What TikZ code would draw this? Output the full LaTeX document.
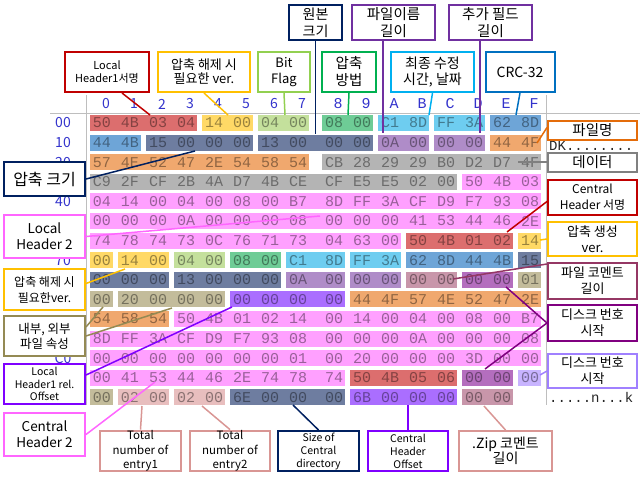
\documentclass[tikz,border=0pt]{standalone}
\usepackage{fontspec}
\setmainfont{Noto Sans CJK KR}
\newfontfamily\hexfont{Liberation Mono}

% byte colours
\definecolor{cSig}{RGB}{220,110,110}
\definecolor{cVer}{RGB}{255,217,102}
\definecolor{cFlag}{RGB}{196,224,156}
\definecolor{cMeth}{RGB}{110,204,150}
\definecolor{cTime}{RGB}{110,205,240}
\definecolor{cCrc}{RGB}{110,165,215}
\definecolor{cSize}{RGB}{110,125,160}
\definecolor{cLen}{RGB}{175,140,200}
\definecolor{cName}{RGB}{240,168,110}
\definecolor{cData}{RGB}{180,180,180}
\definecolor{cPink}{RGB}{255,160,255}
\definecolor{cCom}{RGB}{200,150,170}
\definecolor{cDisk}{RGB}{180,110,190}
\definecolor{cAttr}{RGB}{195,188,155}
\definecolor{cOff}{RGB}{170,110,255}
\definecolor{cDiskB}{RGB}{200,180,255}
\definecolor{cTot}{RGB}{232,190,190}
% box colours
\definecolor{bRed}{RGB}{192,0,0}
\definecolor{bGold}{RGB}{255,192,0}
\definecolor{bLime}{RGB}{146,208,80}
\definecolor{bNavy}{RGB}{0,32,96}
\definecolor{bGreen}{RGB}{0,176,80}
\definecolor{bPurple}{RGB}{112,48,160}
\definecolor{bSky}{RGB}{0,176,240}
\definecolor{bBlue}{RGB}{0,112,192}
\definecolor{bOrange}{RGB}{228,108,10}
\definecolor{bGray}{RGB}{128,128,128}
\definecolor{bPink}{RGB}{255,102,255}
\definecolor{bKhaki}{RGB}{148,138,84}
\definecolor{bViolet}{RGB}{127,0,255}
\definecolor{bMaroon}{RGB}{149,55,100}
\definecolor{bPlum}{RGB}{128,0,128}
\definecolor{bLav}{RGB}{160,128,255}
\definecolor{bRose}{RGB}{217,150,148}
\definecolor{hdr}{RGB}{51,51,204}
\definecolor{gridc}{RGB}{190,190,190}

\tikzset{
    sep/.style={draw=gridc, line width=1pt},
    colhead/.style={text=hdr, inner sep=0pt, font=\fontsize{14}{14}\selectfont},
    rowhead/.style={text=hdr, inner sep=0pt, font=\fontsize{14}{14}\selectfont},
    hexbyte/.style={inner sep=0pt, font=\hexfont\fontsize{15}{15}\selectfont},
    asc/.style={inner sep=0pt, anchor=base west, text=black!85, font=\hexfont\fontsize{14}{14}\selectfont},
    callout/.style={draw=#1, line width=2pt, fill=white, align=center, inner sep=0pt},
}

% one coloured run of bytes: row, first column, colour, bytes
\newcommand\hexseg[4]{%
    \foreach \hb [count=\hi] in {#4} {\xdef\segn{\hi}}%
    \pgfmathsetmacro\xa{102+28*#2+8*(#2>7)-12}%
    \pgfmathtruncatemacro\lastc{#2+\segn-1}%
    \pgfmathsetmacro\xb{102+28*\lastc+8*(\lastc>7)+11}%
    \pgfmathsetmacro\yc{123+19.6*#1}%
    \fill[#3] (\xa,\yc-8) rectangle (\xb,\yc+8);%
    \foreach \hb [count=\hi from #2] in {#4} {%
        \pgfmathsetmacro\xc{102+28*\hi+8*(\hi>7)}%
        \node[hexbyte, text=#3!60!black] (b-#1-\hi) at (\xc,\yc) {\hb};}%
}

\begin{document}
\begin{tikzpicture}[x=1pt, y=-1pt]
    \useasboundingbox (0,0) rectangle (640,479);
    % frame of the dump
    \draw[sep] (50,113) -- (640,113);
    \draw[sep] (86,95) -- (86,405);
    \draw[sep] (546,95) -- (546,405);
    \foreach \c in {0,...,7}
        \node[colhead] (h-\c) at ({106+28*\c},104) {\c};
    \foreach \c/\lab in {8/8,9/9,10/A,11/B,12/C,13/D,14/E,15/F}
        \node[colhead, font=\hexfont\fontsize{15}{15}\selectfont] (h-\c) at ({114+28*\c},104) {\lab};
    \foreach \rw/\lab in {0/00,1/10,2/20,4/40,7/70,12/C0}
        \node[rowhead] (r-\rw) at (63,{123+19.6*\rw}) {\lab};
    \node[asc] (a-1) at (549,150.5) {DK........};
    \node[asc] (a-14) at (549,402.4) {.....n...k};

    % local header 1
    \hexseg{0}{0}{cSig}{50,4B,03,04}
    \hexseg{0}{4}{cVer}{14,00}
    \hexseg{0}{6}{cFlag}{04,00}
    \hexseg{0}{8}{cMeth}{08,00}
    \hexseg{0}{10}{cTime}{C1,8D}
    \hexseg{0}{12}{cTime}{FF,3A}
    \hexseg{0}{14}{cCrc}{62,8D}
    \hexseg{1}{0}{cCrc}{44,4B}
    \hexseg{1}{2}{cSize}{15,00,00,00}
    \hexseg{1}{6}{cSize}{13,00,00,00}
    \hexseg{1}{10}{cLen}{0A,00}
    \hexseg{1}{12}{cLen}{00,00}
    \hexseg{1}{14}{cName}{44,4F}
    \hexseg{2}{0}{cName}{57,4E,52,47,2E,54,58,54}
    \hexseg{2}{8}{cData}{CB,28,29,29,B0,D2,D7,4F}
    \hexseg{3}{0}{cData}{C9,2F,CF,2B,4A,D7,4B,CE,CF,E5,E5,02,00}
    % local header 2
    \hexseg{3}{13}{cPink}{50,4B,03}
    \hexseg{4}{0}{cPink}{04,14,00,04,00,08,00,B7,8D,FF,3A,CF,D9,F7,93,08}
    \hexseg{5}{0}{cPink}{00,00,00,0A,00,00,00,08,00,00,00,41,53,44,46,2E}
    \hexseg{6}{0}{cPink}{74,78,74,73,0C,76,71,73,04,63,00}
    % central header 1
    \hexseg{6}{11}{cSig}{50,4B,01,02}
    \hexseg{6}{15}{cVer}{14}
    \hexseg{7}{0}{cVer}{00}
    \hexseg{7}{1}{cVer}{14,00}
    \hexseg{7}{3}{cFlag}{04,00}
    \hexseg{7}{5}{cMeth}{08,00}
    \hexseg{7}{7}{cTime}{C1,8D}
    \hexseg{7}{9}{cTime}{FF,3A}
    \hexseg{7}{11}{cCrc}{62,8D,44,4B}
    \hexseg{7}{15}{cSize}{15}
    \hexseg{8}{0}{cSize}{00,00,00}
    \hexseg{8}{3}{cSize}{13,00,00,00}
    \hexseg{8}{7}{cLen}{0A,00}
    \hexseg{8}{9}{cLen}{00,00}
    \hexseg{8}{11}{cCom}{00,00}
    \hexseg{8}{13}{cDisk}{00,00}
    \hexseg{8}{15}{cAttr}{01}
    \hexseg{9}{0}{cAttr}{00}
    \hexseg{9}{1}{cAttr}{20,00,00,00}
    \hexseg{9}{5}{cOff}{00,00,00,00}
    \hexseg{9}{9}{cName}{44,4F,57,4E,52,47,2E}
    \hexseg{10}{0}{cName}{54,58,54}
    % central header 2
    \hexseg{10}{3}{cPink}{50,4B,01,02,14,00,14,00,04,00,08,00,B7}
    \hexseg{11}{0}{cPink}{8D,FF,3A,CF,D9,F7,93,08,00,00,00,0A,00,00,00,08}
    \hexseg{12}{0}{cPink}{00,00,00,00,00,00,00,01,00,20,00,00,00,3D,00,00}
    \hexseg{13}{0}{cPink}{00,41,53,44,46,2E,74,78,74}
    % end of central directory
    \hexseg{13}{9}{cSig}{50,4B,05,06}
    \hexseg{13}{13}{cDisk}{00,00}
    \hexseg{13}{15}{cDiskB}{00}
    \hexseg{14}{0}{cAttr}{00}
    \hexseg{14}{1}{cTot}{02,00}
    \hexseg{14}{3}{cTot}{02,00}
    \hexseg{14}{5}{cSize}{6E,00,00,00}
    \hexseg{14}{9}{cOff}{6B,00,00,00}
    \hexseg{14}{13}{cCom}{00,00}

    % callouts
    \node[callout=bRed, minimum width=84pt, minimum height=40pt, font=\fontsize{11}{13}\selectfont] (sig1) at (107,72) {Local\\Header1서명};
    \node[callout=bGold, minimum width=92pt, minimum height=40pt, font=\fontsize{13}{14}\selectfont] (ver1) at (204,72) {압축 해제 시\\필요한 ver.};
    \node[callout=bLime, minimum width=52pt, minimum height=40pt, font=\fontsize{13}{16}\selectfont] (flag) at (284,72) {Bit\\Flag};
    \node[callout=bGreen, minimum width=54pt, minimum height=40pt, font=\fontsize{14.5}{17}\selectfont] (meth) at (349,72) {압축\\방법};
    \node[callout=bSky, minimum width=83pt, minimum height=40pt, font=\fontsize{14}{16}\selectfont] (time) at (432.5,72) {최종 수정\\시간, 날짜};
    \node[callout=bBlue, minimum width=69pt, minimum height=40pt, font=\fontsize{14}{16}\selectfont] (crc) at (520,72) {CRC-32};
    \node[callout=bNavy, minimum width=53pt, minimum height=35pt, font=\fontsize{14}{17}\selectfont] (orig) at (315.5,22.5) {원본\\크기};
    \node[callout=bPurple, minimum width=83pt, minimum height=35pt, font=\fontsize{14.5}{17}\selectfont] (fnl) at (393.5,22.5) {파일이름\\길이};
    \node[callout=bPurple, minimum width=83pt, minimum height=35pt, font=\fontsize{14.5}{17}\selectfont] (efl) at (490.5,22.5) {추가 필드\\길이};

    \node[callout=bOrange, minimum width=89pt, minimum height=19pt, font=\fontsize{14.5}{16}\selectfont] (fname) at (592.5,130.5) {파일명};
    \node[callout=bGray, minimum width=89pt, minimum height=19pt, font=\fontsize{14.5}{16}\selectfont] (data) at (592.5,162) {데이터};
    \node[callout=bRed, minimum width=89pt, minimum height=35pt, font=\fontsize{12}{16}\selectfont] (csig) at (592.5,197.5) {Central\\Header 서명};
    \node[callout=bGold, minimum width=89pt, minimum height=34pt, font=\fontsize{13}{16}\selectfont] (made) at (592.5,239) {압축 생성\\ver.};
    \node[callout=bMaroon, minimum width=89pt, minimum height=36pt, font=\fontsize{13}{16}\selectfont] (fcl) at (592.5,281) {파일 코멘트\\길이};
    \node[callout=bPlum, minimum width=89pt, minimum height=36pt, font=\fontsize{13}{16}\selectfont] (dsk) at (592.5,323) {디스크 번호\\시작};
    \node[callout=bLav, minimum width=89pt, minimum height=34pt, font=\fontsize{13}{16}\selectfont] (dskb) at (592.5,371) {디스크 번호\\시작};

    \node[callout=bNavy, minimum width=81pt, minimum height=34pt, font=\fontsize{16}{18}\selectfont] (csize) at (44.5,179) {압축 크기};
    \node[callout=bPink, minimum width=81pt, minimum height=43pt, font=\fontsize{13.5}{16}\selectfont] (lh2) at (44.5,236.5) {Local\\Header 2};
    \node[callout=bGold, minimum width=81pt, minimum height=41pt, font=\fontsize{12}{16}\selectfont] (ver2) at (44.5,289.5) {압축 해제 시\\필요한ver.};
    \node[callout=bKhaki, minimum width=81pt, minimum height=40pt, font=\fontsize{12.5}{15}\selectfont] (attr) at (44.5,336) {내부, 외부\\파일 속성};
    \node[callout=bViolet, minimum width=81pt, minimum height=40pt, font=\fontsize{10.5}{12.5}\selectfont] (loff) at (44.5,384) {Local\\Header1 rel.\\Offset};
    \node[callout=bPink, minimum width=81pt, minimum height=43pt, font=\fontsize{13.5}{16}\selectfont] (ch2) at (44.5,434.5) {Central\\Header 2};

    \node[callout=bRose, minimum width=81pt, minimum height=40pt, font=\fontsize{11.5}{14.5}\selectfont] (tot1) at (140.5,451) {Total\\number of\\entry1};
    \node[callout=bRose, minimum width=80pt, minimum height=40pt, font=\fontsize{11.5}{14.5}\selectfont] (tot2) at (230,451) {Total\\number of\\entry2};
    \node[callout=bNavy, minimum width=81pt, minimum height=40pt, font=\fontsize{10.5}{13}\selectfont] (cds) at (318.5,451) {Size of\\Central\\directory};
    \node[callout=bViolet, minimum width=80pt, minimum height=40pt, font=\fontsize{10.5}{13}\selectfont] (cho) at (408,451) {Central\\Header\\Offset};
    \node[callout=bRose, minimum width=93pt, minimum height=40pt, font=\fontsize{14}{15}\selectfont] (zcl) at (505.5,451) {.Zip 코멘트\\길이};

    % pointer tips
    \coordinate (t-sig1) at (150,115);
    \coordinate (t-ver1) at (228,115);
    \coordinate (t-flag) at (285,115);
    \coordinate (t-orig) at (315.5,134);
    \coordinate (t-meth) at (348,115);
    \coordinate (t-fnl) at (383,133);
    \coordinate (t-time) at (429,115);
    \coordinate (t-efl) at (480,133);
    \coordinate (t-crc) at (516,115);
    \coordinate (t-fname) at (537,143);
    \coordinate (t-data) at (518,162);
    \coordinate (t-csig) at (507,232);
    \coordinate (t-made) at (540,240);
    \coordinate (t-fcl) at (453,279);
    \coordinate (t-dska) at (506,287);
    \coordinate (t-dskb) at (485,369);
    \coordinate (t-dskc) at (540,375);
    \coordinate (t-csize) at (195,151);
    \coordinate (t-lh2) at (320,216);
    \coordinate (t-ver2) at (125,269);
    \coordinate (t-attra) at (103,307);
    \coordinate (t-attrb) at (172,308);
    \coordinate (t-loff) at (232,307);
    \coordinate (t-ch2) at (155,382);
    \coordinate (t-tot1) at (142,406);
    \coordinate (t-tot2) at (202,406);
    \coordinate (t-cds) at (293,405);
    \coordinate (t-cho) at (408,405);
    \coordinate (t-zcl) at (484,406);

    \begin{scope}[every edge/.style={draw, line width=1.5pt}]
        \path [bRed] ([xshift=15pt]sig1.south) edge (t-sig1);
        \path [bGold] (ver1.south) edge (t-ver1);
        \path [bLime] (flag.south) edge (t-flag);
        \path [bNavy] (orig.south) edge (t-orig);
        \path [bGreen] (meth.south) edge (t-meth);
        \path [bPurple] (fnl.south -| t-fnl) edge (t-fnl);
        \path [bSky] (time.south) edge (t-time);
        \path [bPurple] (efl.south -| t-efl) edge (t-efl);
        \path [bBlue] (crc.south) edge (t-crc);
        \path [bOrange] ([yshift=3pt]fname.west) edge (t-fname);
        \path [bGray] (data.west) edge (t-data);
        \path [bRed] ([yshift=-4pt]csig.west) edge (t-csig);
        \path [bGold] (made.west) edge (t-made);
        \path [bMaroon] ([yshift=-2pt]fcl.north west) edge (t-fcl);
        \path [bPlum] (dsk.west) edge (t-dska);
        \path [bPlum] (dsk.west) edge (t-dskb);
        \path [bLav] (dskb.west) edge (t-dskc);
        \path [bNavy] (csize.east) edge (t-csize);
        \path [bPink] (lh2.east) edge (t-lh2);
        \path [bGold] ([yshift=6pt]ver2.east) edge (t-ver2);
        \path [bKhaki] ([yshift=9pt]attr.east) edge (t-attra);
        \path [bKhaki] (attr.east) edge (t-attrb);
        \path [bViolet] ([yshift=9pt]loff.east) edge (t-loff);
        \path [bPink] (ch2.east) edge (t-ch2);
        \path [bRose] (tot1.north) edge (t-tot1);
        \path [bRose] (tot2.north) edge (t-tot2);
        \path [bNavy] (cds.north) edge (t-cds);
        \path [bViolet] (cho.north) edge (t-cho);
        \path [bRose] (zcl.north) edge (t-zcl);
    \end{scope}
\end{tikzpicture}
\end{document}
